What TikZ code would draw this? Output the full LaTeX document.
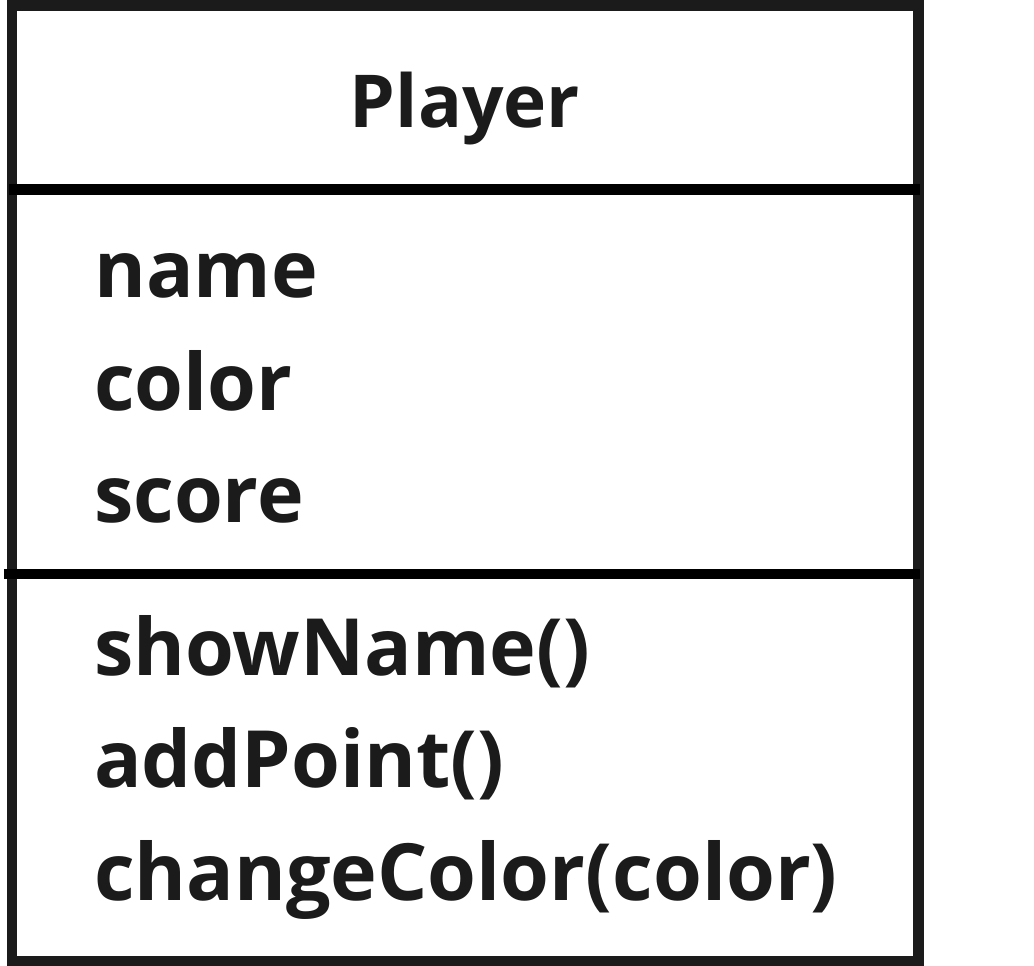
\documentclass[tikz,border=0pt]{standalone}
\usepackage{fontspec}
\setmainfont{Open Sans}
\usepackage{tikz}
\usepackage{xcolor}
\definecolor{inkgray}{HTML}{1B1B1B}
\tikzset{
frameLine/.style={line width=10.5pt, draw=inkgray},
splitLine/.style={line width=10.5pt, draw=black},
member/.style={anchor=base west, inner sep=0pt, text=inkgray,
    font=\fontsize{79}{96}\selectfont\bfseries},
title/.style={anchor=base, inner sep=0pt, text=inkgray,
    font=\fontsize{73}{90}\selectfont\bfseries}
}

\begin{document}
\begin{tikzpicture}[x=1pt,y=-1pt]
    \useasboundingbox (0,0) rectangle (1034,966);

    % class frame
    \coordinate (c_1) at (12,5.3);
    \coordinate (c_2) at (918.5,961);
    \draw[frameLine] (c_1) rectangle (c_2);

    % compartment borders
    \coordinate (s_1) at (9,189.5);
    \coordinate (s_2) at (920,189.5);
    \coordinate (s_3) at (4,574);
    \coordinate (s_4) at (920,574);
    \draw[splitLine] (s_1) -- (s_2);
    \draw[splitLine] (s_3) -- (s_4);

    \node[title] (player) at (465,127) {Player};

    \node[member] (name)  at (94,297) {name};
    \node[member] (color) at (94,410) {color};
    \node[member] (score) at (94,522) {score};

    \node[member] (showName)    at (94,675) {showName()};
    \node[member] (addPoint)    at (94,787) {addPoint()};
    \node[member] (changeColor) at (94,900) {changeColor(color)};
\end{tikzpicture}
\end{document}
